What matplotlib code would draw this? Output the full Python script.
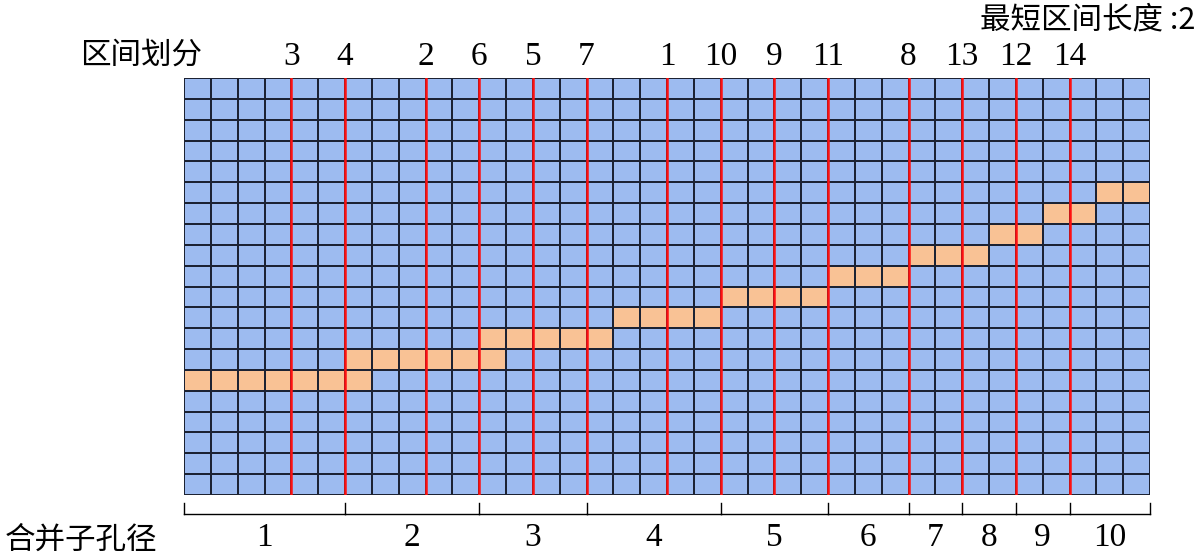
import numpy as np
import matplotlib
matplotlib.use("Agg")
import matplotlib.pyplot as plt
from matplotlib.colors import ListedColormap

plt.rcParams['font.family'] = ['Liberation Serif', 'Noto Sans CJK SC', 'DejaVu Sans']

n_cols = 36
n_rows = 20
# highlighted (merged) cells: column start, column end (inclusive), row (from bottom)
hl_col_start = [0, 6, 11, 16, 20, 24, 27, 30, 32, 34]
hl_col_end   = [6, 11, 15, 19, 23, 26, 29, 31, 33, 35]
hl_row       = [5, 6, 7, 8, 9, 10, 11, 12, 13, 14]

red_pos    = [4, 6, 9, 11, 13, 15, 18, 20, 22, 24, 27, 29, 31, 33]
red_labels = ['3', '4', '2', '6', '5', '7', '1', '10', '9', '11', '8', '13', '12', '14']

bracket_bounds = [0, 6, 11, 15, 20, 24, 27, 29, 31, 33, 36]
bracket_labels = ['1', '2', '3', '4', '5', '6', '7', '8', '9', '10']

grid = np.zeros((n_rows, n_cols))
for s, e, r in zip(hl_col_start, hl_col_end, hl_row):
    grid[r, s:e + 1] = 1

fig = plt.figure(figsize=(12, 5.6), dpi=100)
ax = fig.add_axes([184/1200, 1 - 495/560, (1150-184)/1200, (495-78)/560])
cmap = ListedColormap(['#9dbbf0', '#f9c295'])
ax.pcolormesh(np.arange(n_cols + 1), np.arange(n_rows + 1), grid, cmap=cmap,
              vmin=0, vmax=1, edgecolors='#1c2233', linewidth=1.3)
for x in red_pos:
    ax.axvline(x, color='#ff1010', lw=1.8)
ax.set_xlim(0, n_cols)
ax.set_ylim(0, n_rows)
ax.set_axis_off()

fs = 24
for x, lab in zip(red_pos, red_labels):
    ax.text(x, n_rows + 0.3, lab, ha='center', va='bottom', fontsize=fs)

# brackets below
yb = -0.9
ytick = -0.4
for a, b, lab in zip(bracket_bounds[:-1], bracket_bounds[1:], bracket_labels):
    ax.plot([a, b], [yb, yb], color='black', lw=1, clip_on=False)
    ax.text((a + b) / 2, yb - 0.4, lab, ha='center', va='top', fontsize=fs)
for b in bracket_bounds:
    ax.plot([b, b], [yb, ytick], color='black', lw=1, clip_on=False)

cjk = ['Noto Sans CJK SC', 'DejaVu Sans']
fig.text(80/1200, 1 - 55/560, '区间划分', fontsize=22, va='center', ha='left', family=cjk)
fig.text(1195/1200, 1 - 20/560, '最短区间长度 :2', fontsize=22, va='center', ha='right', family=cjk)
fig.text(5/1200, 1 - 540/560, '合并子孔径', fontsize=22, va='center', ha='left', family=cjk)

fig.savefig('out.png', dpi=100, facecolor='white')
